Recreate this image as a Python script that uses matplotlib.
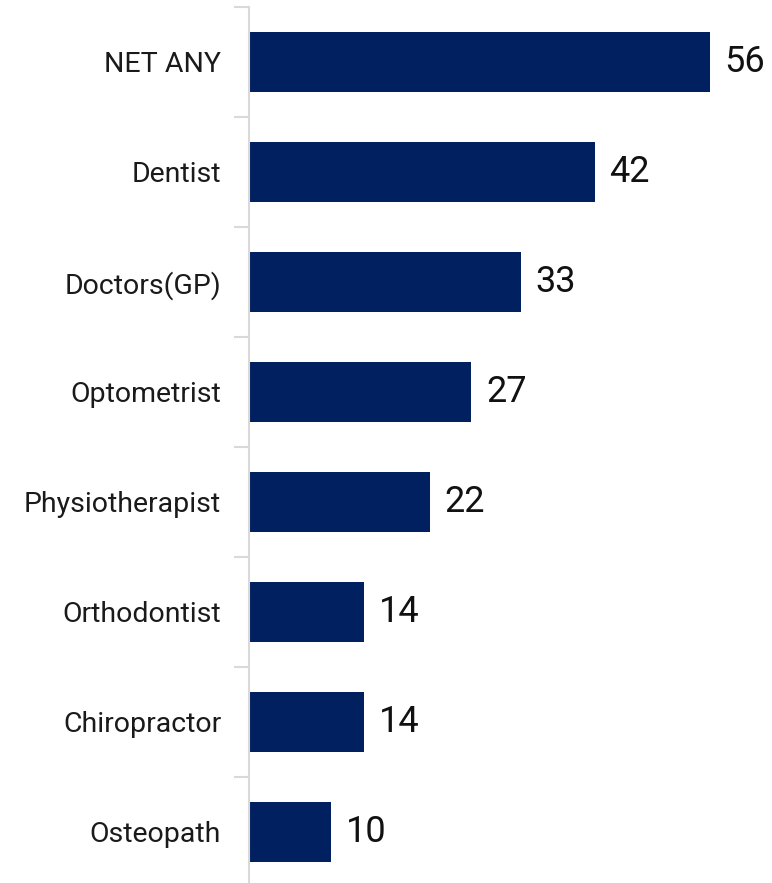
import matplotlib

matplotlib.use("Agg")
import matplotlib.pyplot as plt

categories = [
    "NET ANY",
    "Dentist",
    "Doctors(GP)",
    "Optometrist",
    "Physiotherapist",
    "Orthodontist",
    "Chiropractor",
    "Osteopath",
]
values = [56, 42, 33, 27, 22, 14, 14, 10]

BAR = "#002060"
AXIS = "#d9d9d9"

plt.rcParams["font.family"] = ["Roboto", "DejaVu Sans"]

W, H = 772, 883
fig = plt.figure(figsize=(W / 100, H / 100), dpi=100)
# axes spans x=249..772 px, y=7..887 px (image coords)
ax = fig.add_axes([249 / W, -4 / H, (W - 249) / W, 880 / H])

y = list(range(len(categories)))
ax.barh(y, values, height=0.55, color=BAR, zorder=2)
ax.set_ylim(len(categories) - 0.5, -0.5)
ax.set_xlim(0, (W - 249) / 8.23)

for yi, v in zip(y, values):
    ax.text(v + 1.8, yi, f"{v}", va="center", ha="left", fontsize=26, color="#111111")

for s in ["top", "right", "bottom"]:
    ax.spines[s].set_visible(False)
ax.spines["left"].set_color(AXIS)
ax.spines["left"].set_linewidth(1.5)

ax.set_xticks([])
ax.set_yticks(y)
ax.set_yticklabels(categories, fontsize=20.5, color="#1a1a1a")
ax.set_yticks([i - 0.5 for i in range(len(categories) + 1)], minor=True)
ax.tick_params(axis="y", which="major", length=0, pad=20)
ax.tick_params(axis="y", which="minor", length=11, width=1.5, color=AXIS)

fig.savefig("out.png", dpi=100)
